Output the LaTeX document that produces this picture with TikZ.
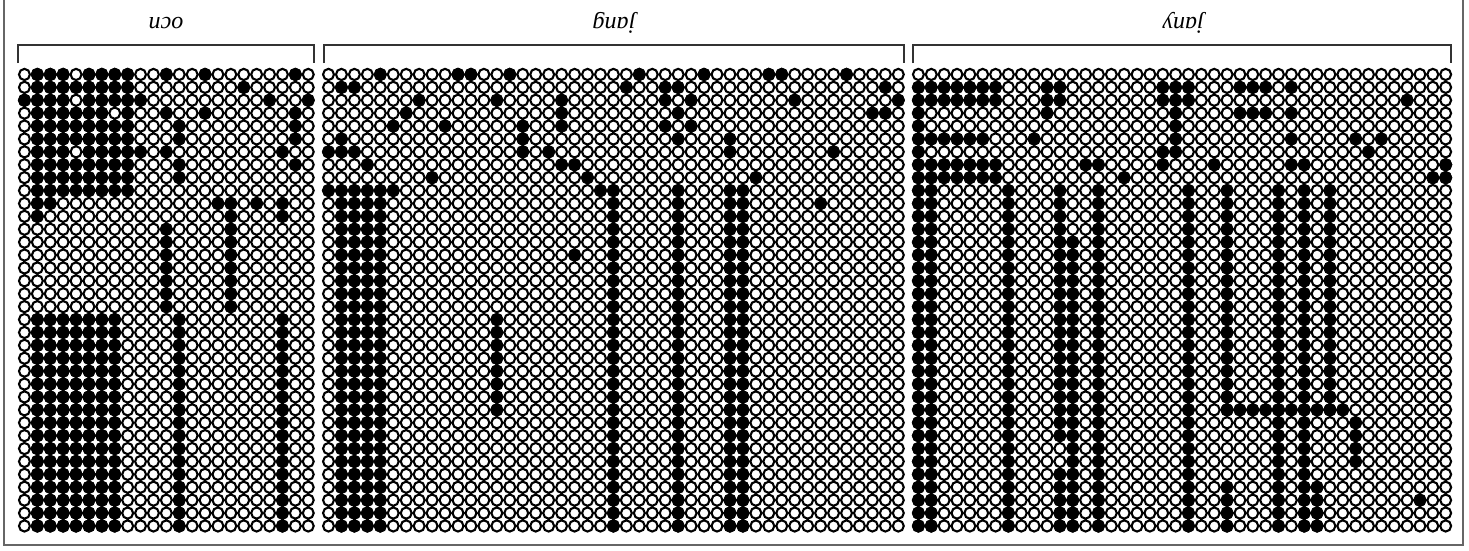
\documentclass[tikz,border=0pt]{standalone}
\usepackage{fontspec}
\setmainfont{Liberation Serif}
\tikzset{
  cell/.style={draw=black, line width=2.1pt, fill=white},
  full/.style={draw=black, line width=2.1pt, fill=black},
  brace/.style={draw=black!80, line width=2pt},
  tag/.style={font=\itshape\fontsize{24}{24}\selectfont, rotate=180, inner sep=0pt, anchor=base},
  frame/.style={draw=black!60, line width=1.4pt}
}
% open grid: #1 centre of first column, #2 column pitch, #3 last column index
\newcommand\opengrid[3]{%
  \path[cell] foreach \ci in {0,...,#3}{ foreach \ri in {0,...,35}{
    ({#1+#2*\ci},{74.45+12.9*\ri}) ellipse [x radius=5.45pt, y radius=5.6pt] } };}
% filled block: #1 first centre, #2 pitch, #3-#4 columns, #5-#6 rows
\newcommand\solidcells[6]{%
  \path[full] foreach \ci in {#3,...,#4}{ foreach \ri in {#5,...,#6}{
    ({#1+#2*\ci},{74.45+12.9*\ri}) ellipse [x radius=5.45pt, y radius=5.6pt] } };}
\newcommand\cellsO[4]{\solidcells{24.45}{12.9}{#1}{#2}{#3}{#4}}
\newcommand\cellsG[4]{\solidcells{328.5}{12.95}{#1}{#2}{#3}{#4}}
\newcommand\cellsY[4]{\solidcells{918.4}{12.86}{#1}{#2}{#3}{#4}}
\begin{document}
\begin{tikzpicture}[x=1pt,y=-1pt]
\useasboundingbox (0,0) rectangle (1469,550);
\fill[white] (0,0) rectangle (1469,550);
\draw[frame] (4,0) -- (4,545) -- (1463,545) -- (1463,0);

% brackets and labels
\draw[brace] (18,63) -- (18,45) -- (314,45) -- (314,63);
\draw[brace] (324,63) -- (324,45) -- (904,45) -- (904,63);
\draw[brace] (913,63) -- (913,45) -- (1451,45) -- (1451,63);
\node[tag] (lo) at (166,17) {ocn};
\node[tag] (lg) at (614,17) {jang};
\node[tag] (ly) at (1183,17) {jany};

% open grids
\opengrid{24.45}{12.9}{22}
\opengrid{328.5}{12.95}{44}
\opengrid{918.4}{12.86}{41}

% ---- ocn ----
\cellsO{1}{3}{0}{9}
\cellsO{4}{4}{1}{1}\cellsO{4}{4}{3}{5}\cellsO{4}{4}{7}{9}
\cellsO{5}{6}{0}{9}
\cellsO{7}{7}{0}{2}\cellsO{7}{7}{4}{9}
\cellsO{8}{8}{0}{9}
\cellsO{0}{0}{2}{2}
\cellsO{1}{1}{10}{11}\cellsO{2}{2}{10}{10}
\cellsO{11}{11}{0}{0}\cellsO{14}{14}{0}{0}\cellsO{21}{21}{0}{0}
\cellsO{17}{17}{1}{1}
\cellsO{9}{9}{2}{2}\cellsO{19}{19}{2}{2}\cellsO{22}{22}{2}{2}
\cellsO{11}{11}{3}{3}\cellsO{14}{14}{3}{3}\cellsO{21}{21}{3}{5}
\cellsO{12}{12}{4}{5}
\cellsO{9}{9}{6}{6}\cellsO{11}{11}{6}{6}\cellsO{20}{20}{6}{6}
\cellsO{12}{12}{7}{8}\cellsO{21}{21}{7}{7}
\cellsO{15}{16}{10}{10}\cellsO{16}{16}{11}{11}
\cellsO{18}{18}{10}{10}\cellsO{20}{20}{10}{11}
\cellsO{11}{11}{12}{18}\cellsO{16}{16}{12}{18}
\cellsO{1}{7}{19}{35}
\cellsO{12}{12}{19}{35}\cellsO{20}{20}{19}{35}

% ---- jang ----
\cellsG{0}{5}{9}{9}\cellsG{1}{4}{10}{35}
\cellsG{13}{13}{19}{26}
\cellsG{19}{19}{14}{14}
\cellsG{21}{21}{9}{9}\cellsG{22}{22}{9}{35}
\cellsG{27}{27}{9}{35}
\cellsG{31}{32}{9}{35}
\cellsG{38}{38}{10}{10}
\foreach \k in {4,10,11,14,24,29,34,35,40}{\cellsG{\k}{\k}{0}{0}}
\foreach \k in {1,2,23,26,27,43}{\cellsG{\k}{\k}{1}{1}}
\foreach \k in {7,13,18,26,28,36,44}{\cellsG{\k}{\k}{2}{2}}
\foreach \k in {6,18,27,42,43}{\cellsG{\k}{\k}{3}{3}}
\foreach \k in {5,9,15,18,26,28}{\cellsG{\k}{\k}{4}{4}}
\foreach \k in {1,15,27,31}{\cellsG{\k}{\k}{5}{5}}
\foreach \k in {0,1,2,15,17,31,39}{\cellsG{\k}{\k}{6}{6}}
\foreach \k in {3,18,19}{\cellsG{\k}{\k}{7}{7}}
\foreach \k in {8,20,33}{\cellsG{\k}{\k}{8}{8}}

% ---- jany ----
\cellsY{0}{6}{1}{2}\cellsY{0}{0}{3}{4}\cellsY{0}{5}{5}{5}
\cellsY{0}{0}{6}{6}\cellsY{0}{6}{7}{8}
\cellsY{10}{10}{1}{3}\cellsY{11}{11}{1}{2}
\cellsY{9}{9}{5}{5}
\cellsY{13}{14}{7}{7}
\cellsY{16}{16}{8}{8}
\cellsY{19}{21}{1}{2}\cellsY{20}{20}{3}{6}\cellsY{19}{19}{6}{7}
\cellsY{23}{23}{7}{7}
\cellsY{25}{27}{1}{1}\cellsY{25}{27}{3}{3}
\cellsY{29}{29}{1}{1}\cellsY{29}{29}{3}{3}\cellsY{29}{29}{5}{5}
\cellsY{29}{30}{7}{7}
\cellsY{34}{34}{5}{5}\cellsY{35}{35}{6}{6}\cellsY{36}{36}{5}{5}
\cellsY{38}{38}{2}{2}
\cellsY{40}{40}{8}{8}\cellsY{41}{41}{7}{8}
\cellsY{0}{1}{9}{35}
\cellsY{7}{7}{9}{35}
\cellsY{11}{11}{9}{28}\cellsY{11}{11}{31}{35}
\cellsY{12}{12}{13}{35}
\cellsY{14}{14}{9}{35}
\cellsY{21}{21}{9}{35}
\cellsY{24}{24}{9}{26}\cellsY{24}{24}{32}{35}
\cellsY{28}{28}{9}{35}
\cellsY{30}{30}{9}{35}
\cellsY{32}{32}{9}{26}
\cellsY{24}{33}{26}{26}
\cellsY{34}{34}{27}{30}
\cellsY{31}{31}{32}{35}
\cellsY{39}{39}{33}{33}
\end{tikzpicture}
\end{document}
